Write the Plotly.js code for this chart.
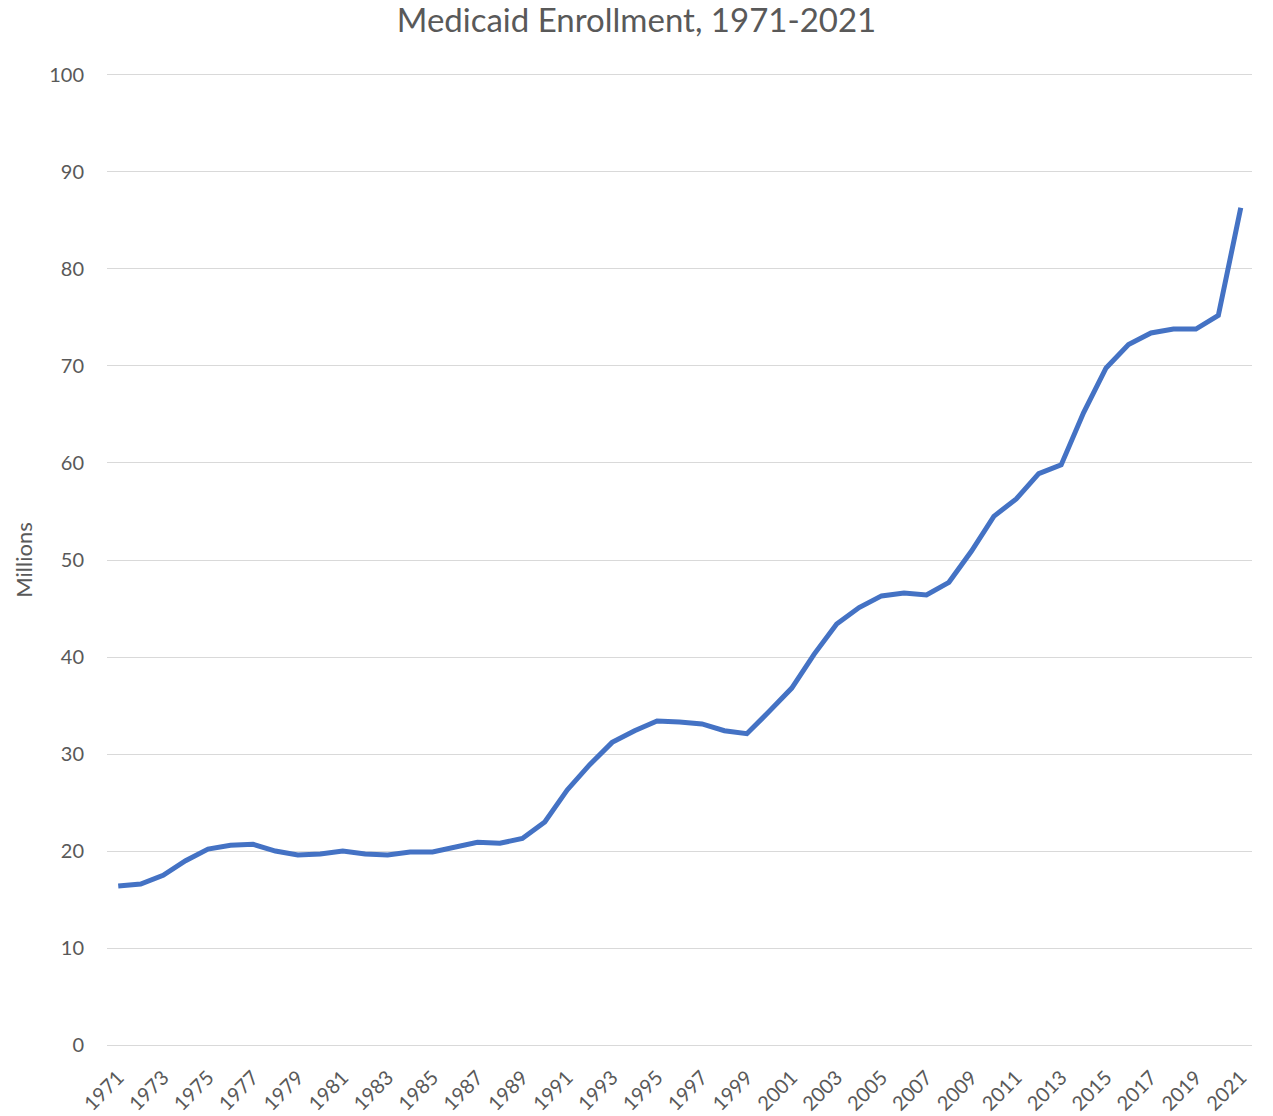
<!DOCTYPE html>
<html>
<head>
<meta charset="utf-8">
<script src="https://cdn.plot.ly/plotly-3.0.1.min.js"></script>
<style>html,body{margin:0;padding:0;background:#fff;}#chart{width:1273px;height:1116px;}</style>
</head>
<body>
<div id="chart"></div>
<script>
const years = [1971,1972,1973,1974,1975,1976,1977,1978,1979,1980,1981,1982,1983,1984,1985,1986,1987,1988,1989,1990,1991,1992,1993,1994,1995,1996,1997,1998,1999,2000,2001,2002,2003,2004,2005,2006,2007,2008,2009,2010,2011,2012,2013,2014,2015,2016,2017,2018,2019,2020,2021];
const enrollment = [16.4,16.6,17.5,19.0,20.2,20.6,20.7,20.0,19.6,19.7,20.0,19.7,19.6,19.9,19.9,20.4,20.9,20.8,21.3,23.0,26.3,28.9,31.2,32.4,33.4,33.3,33.1,32.4,32.1,34.4,36.8,40.3,43.4,45.1,46.3,46.6,46.4,47.7,50.9,54.5,56.3,58.9,59.8,65.2,69.8,72.2,73.4,73.8,73.8,75.2,86.3];
const tickYears = years.filter((y, i) => i % 2 === 0);
const yTicks = [0,10,20,30,40,50,60,70,80,90,100];

const font = "Lato, 'Open Sans', sans-serif";
Plotly.newPlot('chart', [{
  x: years, y: enrollment, type: 'scatter', mode: 'lines',
  line: {color: '#4472C4', width: 5}, hoverinfo: 'x+y'
}], {
  width: 1273, height: 1116,
  margin: {l: 107, r: 21, t: 72, b: 68},
  paper_bgcolor: '#fff', plot_bgcolor: '#fff',
  showlegend: false,
  title: {text: 'Medicaid Enrollment, 1971-2021', x: 0.5, xanchor: 'center', y: 0.982, yanchor: 'middle',
          font: {family: font, size: 33, color: '#595959'}},
  xaxis: {range: [1970.5, 2021.5], tickmode: 'array', tickvals: tickYears, ticktext: tickYears.map(String),
          tickangle: -45, showgrid: false, zeroline: false, showline: false, ticks: '', ticklabelstandoff: 13,
          tickfont: {family: font, size: 20, color: '#595959'}, automargin: false},
  yaxis: {range: [-0.3, 100.3], tickmode: 'array', tickvals: yTicks, showgrid: true, gridcolor: '#d9d9d9', gridwidth: 1.3,
          zeroline: false, showline: false, ticks: '', ticklabelstandoff: 22, automargin: false,
          tickfont: {family: font, size: 20, color: '#595959'},
          title: {text: 'Millions', standoff: 10, font: {family: font, size: 22, color: '#595959'}}}
}, {displayModeBar: false});
</script>
</body>
</html>
